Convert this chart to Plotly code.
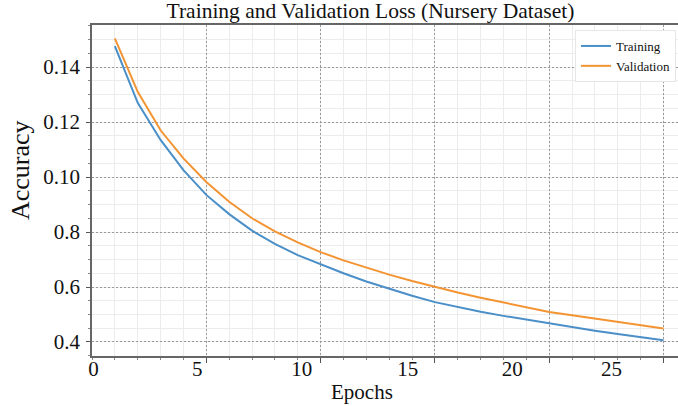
import plotly.graph_objects as go

epochs = list(range(1, 26))
training = [1.476, 1.270, 1.135, 1.025, 0.935, 0.865, 0.805, 0.757, 0.716, 0.683,
            0.650, 0.620, 0.593, 0.568, 0.545, 0.527, 0.510, 0.495, 0.481, 0.467,
            0.454, 0.441, 0.429, 0.417, 0.406]
validation = [1.504, 1.310, 1.170, 1.068, 0.982, 0.910, 0.850, 0.802, 0.762, 0.727,
              0.697, 0.670, 0.645, 0.622, 0.600, 0.580, 0.561, 0.543, 0.526, 0.509,
              0.497, 0.485, 0.473, 0.461, 0.449]

grid_x = [5, 10, 15, 20, 25]
xlabel_pos = [0.07, 4.6, 9.17, 13.81, 18.38, 22.72]
xlabel_text = ["0", "5", "10", "15", "20", "25"]
y_tickvals = [0.4, 0.6, 0.8, 1.0, 1.2, 1.4]
y_ticktext = ["0.4", "0.6", "0.8", "0.10", "0.12", "0.14"]

FONT = "Liberation Serif"
W, H = 678, 406
L, R, T, B = 92, 0, 25, 50
PW, PH = W - L - R, H - T - B


def px_x(px):
    return (px - L) / PW


def px_y(py):
    return (H - B - py) / PH


fig = go.Figure()
fig.add_trace(go.Scatter(x=epochs, y=training, mode="lines", name="Training",
                         line=dict(color="#4a8fc7", width=2)))
fig.add_trace(go.Scatter(x=epochs, y=validation, mode="lines", name="Validation",
                         line=dict(color="#f39433", width=2)))
fig.add_trace(go.Scatter(x=epochs, y=training, xaxis="x2", mode="lines",
                         line=dict(color="rgba(0,0,0,0)", width=0),
                         showlegend=False, hoverinfo="skip"))

xr = [0, PW / 22.86]
yr = [0.349, 1.553]

fig.update_layout(
    width=W, height=H,
    margin=dict(l=L, r=R, t=T, b=B),
    paper_bgcolor="white", plot_bgcolor="white",
    font=dict(family=FONT, color="#111"),
    title=dict(text="Training and Validation Loss (Nursery Dataset)",
               font=dict(family=FONT, size=21.5, color="#111"),
               x=370.5 / W, xanchor="center", xref="container",
               y=1 - 3 / H, yanchor="top", yref="container"),
    xaxis=dict(range=xr, tickvals=grid_x, showticklabels=False,
               ticks="outside", ticklen=5, tickcolor="#555", tickwidth=1,
               showgrid=True, gridcolor="#9a9a9a", griddash="2px,2px", gridwidth=1,
               minor=dict(dtick=1, tick0=0, showgrid=True, gridcolor="#ececec",
                          griddash="solid", gridwidth=1,
                          ticks="outside", ticklen=2, tickcolor="#888"),
               showline=True, linecolor="#666", linewidth=1.5, mirror=True,
               zeroline=False),
    xaxis2=dict(range=xr, overlaying="x", side="bottom", anchor="y",
                tickvals=xlabel_pos, ticktext=xlabel_text, ticks="",
                ticklabelstandoff=-2,
                showgrid=False, zeroline=False, showline=False,
                tickfont=dict(family=FONT, size=21, color="#111")),
    yaxis=dict(range=yr, tickvals=y_tickvals, ticktext=y_ticktext,
               tickfont=dict(family=FONT, size=21, color="#111"),
               ticks="outside", ticklen=4, tickcolor="#555",
               ticklabelstandoff=2,
               showgrid=True, gridcolor="#9a9a9a", griddash="2px,2px", gridwidth=1,
               minor=dict(dtick=0.05, tick0=0.4, showgrid=True, gridcolor="#ececec",
                          griddash="solid", gridwidth=1,
                          ticks="outside", ticklen=2, tickcolor="#888"),
               showline=True, linecolor="#666", linewidth=1.5, mirror=False,
               zeroline=False),
    legend=dict(x=px_x(676), xanchor="right", y=px_y(30), yanchor="top",
                bgcolor="white", bordercolor="#e6e6e6", borderwidth=1,
                font=dict(family=FONT, size=13, color="#111"),
                tracegroupgap=0, itemwidth=30),
    showlegend=True,
    annotations=[
        dict(text="Epochs", x=px_x(362), y=px_y(392), xref="paper", yref="paper",
             showarrow=False, font=dict(family=FONT, size=21, color="#111"),
             xanchor="center", yanchor="middle"),
        dict(text="Accuracy", x=px_x(20), y=px_y(170), xref="paper", yref="paper",
             showarrow=False, textangle=-90,
             font=dict(family=FONT, size=26, color="#111"),
             xanchor="center", yanchor="middle"),
    ],
)

fig.write_html("out.html",
               config={"displayModeBar": False},
               post_script="document.body.style.margin='0';"
                           "document.body.style.padding='0';"
                           "document.body.style.overflow='hidden';")
